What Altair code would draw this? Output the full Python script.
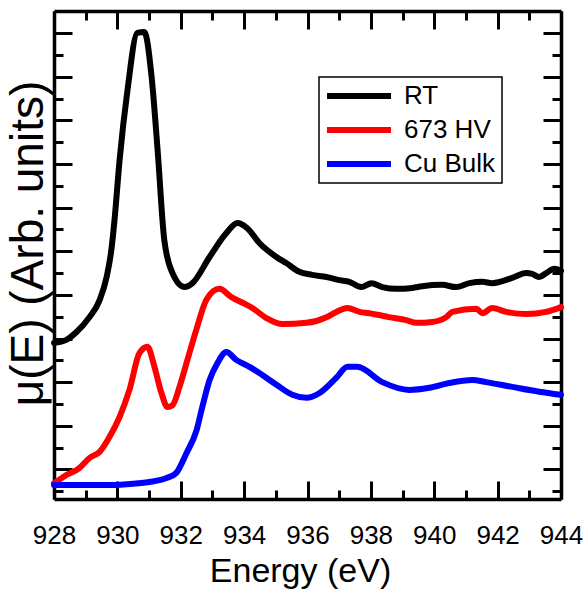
import altair as alt
import pandas as pd

# ---- data ----
rt_e = [928.0, 928.39, 928.71, 929.12, 929.44, 929.66, 929.81, 929.91, 930.07, 930.32,
        930.63, 930.85, 931.08, 931.27, 931.48, 931.74, 932.12, 932.37, 932.91, 933.44,
        933.79, 934.10, 934.48, 935.02, 935.33, 935.74, 936.15, 936.60, 937.01, 937.32,
        937.70, 938.02, 938.36, 938.80, 939.31, 939.62, 940.25, 940.69, 941.11, 941.52,
        941.83, 942.46, 942.90, 943.09, 943.31, 943.53, 943.79, 944.0]
rt_v = [3.90, 3.97, 4.15, 4.49, 4.88, 5.41, 6.03, 6.72, 8.09, 9.70,
        11.01, 11.03, 10.00, 8.32, 6.26, 5.50, 5.18, 5.27, 5.87, 6.42,
        6.65, 6.53, 6.19, 5.87, 5.73, 5.53, 5.46, 5.41, 5.34, 5.30,
        5.18, 5.27, 5.18, 5.14, 5.16, 5.20, 5.23, 5.18, 5.27, 5.30,
        5.27, 5.39, 5.50, 5.48, 5.41, 5.50, 5.60, 5.55]

hv_e = [928.0, 928.39, 928.80, 929.12, 929.44, 929.75, 930.07, 930.38, 930.70, 930.95,
        931.17, 931.39, 931.58, 931.74, 931.96, 932.21, 932.49, 932.81, 933.22, 933.60,
        933.95, 934.26, 934.70, 935.21, 935.97, 936.60, 936.91, 937.26, 937.64, 937.95,
        938.58, 939.12, 939.44, 939.94, 940.38, 940.57, 941.33, 941.52, 941.83, 942.27,
        942.90, 943.53, 944.0]
hv_v = [0.68, 0.87, 1.03, 1.26, 1.40, 1.74, 2.20, 2.82, 3.67, 3.81,
        3.35, 2.75, 2.43, 2.47, 2.89, 3.51, 4.20, 4.89, 5.14, 4.95,
        4.82, 4.70, 4.47, 4.33, 4.36, 4.49, 4.61, 4.70, 4.61, 4.58,
        4.49, 4.42, 4.36, 4.38, 4.49, 4.61, 4.68, 4.58, 4.70, 4.61,
        4.56, 4.61, 4.72]

cu_e = [928.0, 929.66, 930.29, 931.01, 931.55, 931.86, 932.18, 932.50, 932.68, 932.91,
        933.16, 933.44, 933.75, 934.17, 934.48, 935.02, 935.52, 935.97, 936.38, 936.91,
        937.26, 937.57, 938.36, 939.21, 939.84, 940.47, 941.20, 941.64, 942.46, 943.31,
        944.0]
cu_v = [0.64, 0.64, 0.66, 0.71, 0.80, 0.92, 1.37, 1.90, 2.43, 3.05,
        3.44, 3.69, 3.51, 3.35, 3.21, 2.94, 2.71, 2.64, 2.75, 3.10,
        3.35, 3.35, 3.00, 2.82, 2.87, 2.98, 3.05, 3.00, 2.89, 2.78,
        2.71]

series_names = ["RT", "673 HV", "Cu Bulk"]
series_colors = ["#000000", "#ff0000", "#0000ff"]

x_ticks = list(range(928, 945))
y_ticks = [v / 2 for v in range(1, 23)]  # 0.5 ... 11.0

rows = []
for name, es, vs in zip(series_names, [rt_e, hv_e, cu_e], [rt_v, hv_v, cu_v]):
    for i, (e, v) in enumerate(zip(es, vs)):
        rows.append({"series": name, "E": e, "v": v, "i": i})
df = pd.DataFrame(rows)

FONT = "Liberation Sans"
x_scale = alt.Scale(domain=[928, 944], nice=False, zero=False)
y_scale = alt.Scale(domain=[0.32, 11.51], nice=False, zero=False)

x_tick_size = {"condition": {"test": "datum.value % 2 === 0", "value": -18}, "value": -9}
y_tick_size = {"condition": {"test": "datum.value % 1 === 0", "value": -18}, "value": -9}

common_axis = dict(domainColor="black", domainWidth=3.5, tickColor="black",
                   tickWidth=3, grid=False)

base = alt.Chart(df)

main = base.mark_line(strokeWidth=6, strokeJoin="round", strokeCap="round",
                      interpolate="monotone").encode(
    x=alt.X("E:Q", scale=x_scale,
            axis=alt.Axis(orient="bottom", values=x_ticks, tickSize=x_tick_size,
                          labelExpr="datum.value % 2 === 0 ? datum.label : ''",
                          labelFont=FONT, labelFontSize=26, labelColor="black",
                          labelPadding=41, labelFlush=False,
                          title="Energy (eV)", titleFont=FONT, titleFontSize=34,
                          titleFontWeight="normal", titleColor="black",
                          titleX=246, titleY=82, titleBaseline="alphabetic",
                          **common_axis)),
    y=alt.Y("v:Q", scale=y_scale,
            axis=alt.Axis(orient="left", values=y_ticks, tickSize=y_tick_size,
                          labels=False, title="μ(E) (Arb. units)", titleFont=FONT,
                          titleFontSize=46, titleFontWeight="normal",
                          titleColor="black", titleX=-12, titleY=232,
                          titleBaseline="alphabetic", titleAngle=270,
                          **common_axis)),
    color=alt.Color("series:N",
                    scale=alt.Scale(domain=series_names, range=series_colors),
                    legend=alt.Legend(title=None, orient="none", legendX=265, legendY=66,
                                      strokeColor="black",
                                      padding=6, symbolType="M-5,0H4",
                                      symbolDash=[0, 8, 200],
                                      symbolSize=256, symbolStrokeWidth=6,
                                      symbolOffset=21,
                                      labelFont=FONT, labelFontSize=26,
                                      labelColor="black", labelOffset=32,
                                      rowPadding=8)),
    order="i:Q",
)

mirror = base.mark_line(strokeOpacity=0).encode(
    x=alt.X("E:Q", scale=x_scale,
            axis=alt.Axis(orient="top", values=x_ticks, tickSize=x_tick_size,
                          labels=False, title=None, **common_axis)),
    y=alt.Y("v:Q", scale=y_scale,
            axis=alt.Axis(orient="right", values=y_ticks, tickSize=y_tick_size,
                          labels=False, title=None, **common_axis)),
    detail="series:N",
    order="i:Q",
)

chart = alt.layer(main, mirror).resolve_axis(x="independent", y="independent").properties(
    width=507, height=488,
    autosize=alt.AutoSizeParams(type="none"),
    padding={"left": 54, "top": 11, "right": 25, "bottom": 93},
).configure_view(stroke=None).configure_legend(strokeWidth=1.5)

chart.save("out.html", embed_options={"renderer": "svg", "actions": False})
